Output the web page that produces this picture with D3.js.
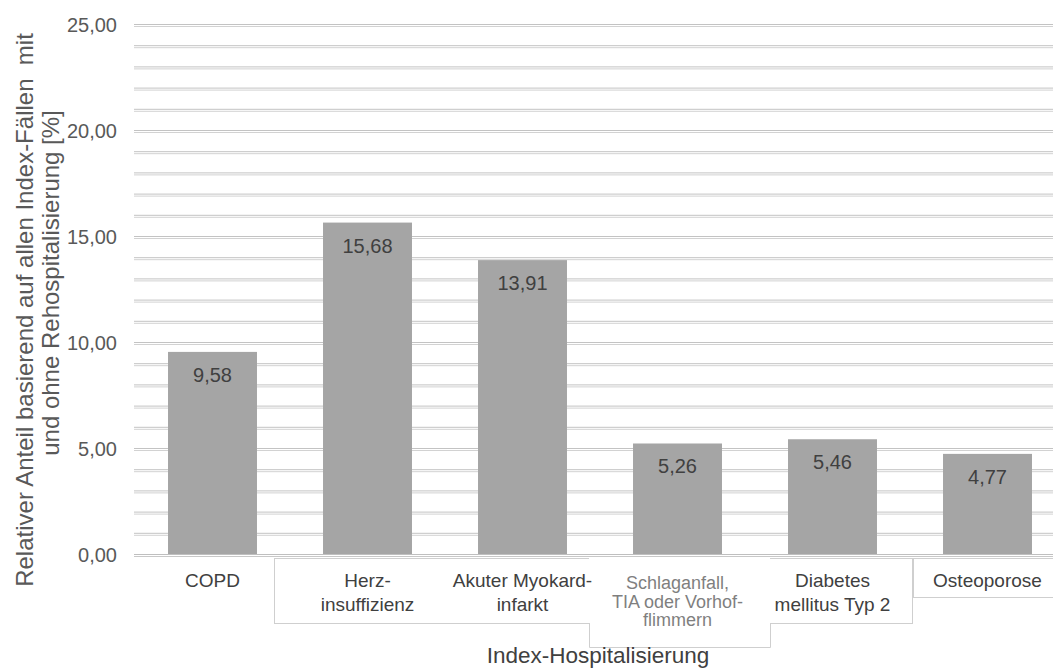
<!DOCTYPE html>
<html>
<head>
<meta charset="utf-8">
<script src="https://cdn.jsdelivr.net/npm/d3@7"></script>
<style>
  body { margin: 0; background: #fff; }
  svg { display: block; font-family: "Liberation Sans", Arial, sans-serif; }
</style>
</head>
<body>
<svg id="chart" width="1053" height="669"></svg>
<script>
const categories = ["COPD", "Herz-insuffizienz", "Akuter Myokard-infarkt", "Schlaganfall, TIA oder Vorhof-flimmern", "Diabetes mellitus Typ 2", "Osteoporose"];
const labelLines = [
  ["COPD"],
  ["Herz-", "insuffizienz"],
  ["Akuter Myokard-", "infarkt"],
  ["Schlaganfall,", "TIA oder Vorhof-", "flimmern"],
  ["Diabetes", "mellitus Typ 2"],
  ["Osteoporose"]
];
const values = [9.58, 15.68, 13.91, 5.26, 5.46, 4.77];
const yTicks = [0, 5, 10, 15, 20, 25];

const svg = d3.select("#chart");
const fmt = (v) => d3.format(".2f")(v).replace(".", ",");

const x = d3.scaleBand()
  .domain(categories)
  .range([135, 1065])
  .paddingInner(0.426)
  .paddingOuter(0.213);

const y = d3.scaleLinear().domain([0, 25]).range([555, 25]);

// gridlines (every unit, drawn as double lines)
const grid = svg.append("g").attr("class", "grid");
const gridVals = d3.range(1, 26);
grid.selectAll("line.a")
  .data(gridVals)
  .join("line")
  .attr("x1", 134).attr("x2", 1053)
  .attr("y1", (d) => y(d) - 0.5).attr("y2", (d) => y(d) - 0.5)
  .attr("stroke", "#c3c3c3").attr("stroke-width", 1);
grid.selectAll("line.b")
  .data(gridVals)
  .join("line")
  .attr("x1", 134).attr("x2", 1053)
  .attr("y1", (d) => y(d) + 1.5).attr("y2", (d) => y(d) + 1.5)
  .attr("stroke", "#d2d2d2").attr("stroke-width", 1);

// bars
svg.append("g").selectAll("rect")
  .data(values)
  .join("rect")
  .attr("x", (d, i) => x(categories[i]))
  .attr("y", (d) => y(d))
  .attr("width", x.bandwidth())
  .attr("height", (d) => y(0) - y(d))
  .attr("fill", "#a5a5a5");

// baseline
svg.append("line")
  .attr("x1", 134).attr("x2", 1053)
  .attr("y1", y(0) - 0.5).attr("y2", y(0) - 0.5)
  .attr("stroke", "#bfbfbf");
svg.append("line")
  .attr("x1", 134).attr("x2", 1053)
  .attr("y1", y(0) + 1.5).attr("y2", y(0) + 1.5)
  .attr("stroke", "#c8c8c8");

// value labels
svg.append("g").selectAll("text")
  .data(values)
  .join("text")
  .attr("x", (d, i) => x(categories[i]) + x.bandwidth() / 2)
  .attr("y", (d) => y(d) + 30)
  .attr("text-anchor", "middle")
  .attr("font-size", 20)
  .attr("fill", "#404040")
  .text(fmt);

// y axis tick labels
const yAxis = d3.axisLeft(y).tickValues(yTicks).tickFormat(fmt).tickSize(0).tickPadding(0);
const ya = svg.append("g").attr("transform", "translate(117,0)").call(yAxis);
ya.select(".domain").remove();
ya.selectAll("text").attr("font-size", 20).attr("fill", "#595959")
  .attr("font-family", "Liberation Sans, Arial, sans-serif");

// category label frames
const frames = svg.append("g").attr("fill", "#fff").attr("stroke", "#cfcfcf");
frames.append("rect").attr("x", 274.5).attr("y", 558.5).attr("width", 324).attr("height", 65);
frames.append("rect").attr("x", 758.5).attr("y", 558.5).attr("width", 154).attr("height", 65);
frames.append("rect").attr("x", 913.5).attr("y", 558.5).attr("width", 150).attr("height", 39);
frames.append("rect").attr("x", 589).attr("y", 557).attr("width", 181).attr("height", 90).attr("stroke", "none");
frames.append("path").attr("fill", "none")
  .attr("d", "M589.5,623 V647.5 H770.5 V623");

// category labels
const catG = svg.append("g").selectAll("text")
  .data(labelLines)
  .join("text")
  .attr("text-anchor", "middle")
  .attr("font-size", (d, i) => (i === 3 ? 18 : 19))
  .attr("fill", (d, i) => (i === 3 ? "#7f7f7f" : "#404040"));
catG.selectAll("tspan")
  .data((d, i) => d.map((t) => ({ t, i })))
  .join("tspan")
  .attr("x", (d) => x(categories[d.i]) + x.bandwidth() / 2)
  .attr("y", (d, j) => (d.i === 3 ? 589 + j * 18.5 : 587 + j * 24))
  .text((d) => d.t);

// axis titles
svg.append("text")
  .attr("x", 598).attr("y", 663)
  .attr("text-anchor", "middle")
  .attr("font-size", 22.5)
  .attr("fill", "#404040")
  .text("Index-Hospitalisierung");

svg.append("text")
  .attr("transform", "translate(33,310) rotate(-90)")
  .attr("text-anchor", "middle")
  .attr("font-size", 24)
  .attr("fill", "#595959")
  .attr("xml:space", "preserve")
  .style("white-space", "pre")
  .text("Relativer Anteil basierend auf allen Index-Fällen  mit");
svg.append("text")
  .attr("transform", "translate(59,283) rotate(-90)")
  .attr("text-anchor", "middle")
  .attr("font-size", 24)
  .attr("fill", "#595959")
  .text("und ohne Rehospitalisierung [%]");
</script>
</body>
</html>
